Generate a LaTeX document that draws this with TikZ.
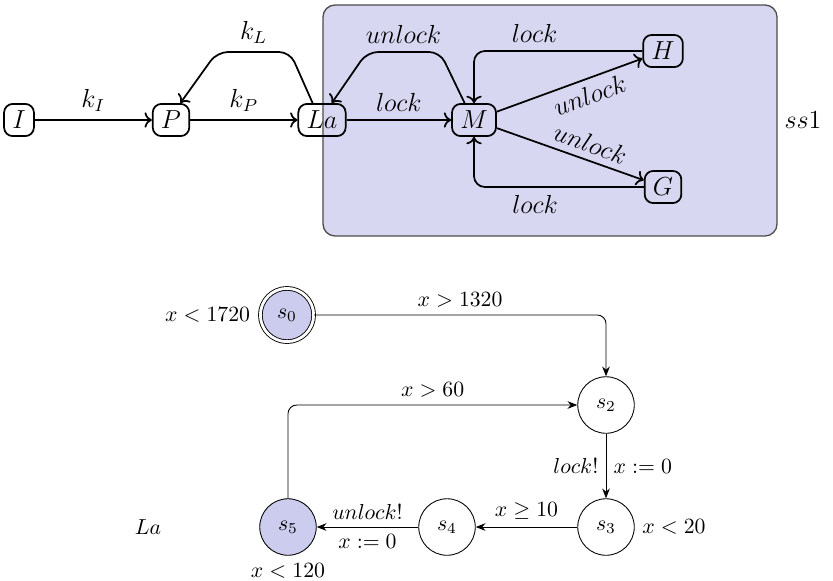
\documentclass[tikz,border=0pt]{standalone}
\usetikzlibrary{arrows.meta}
\definecolor{boxfill}{RGB}{215,215,241}
\definecolor{statefill}{RGB}{204,204,238}
\begin{document}
\begin{tikzpicture}[x=0.46pt,y=-0.46pt,
  tfont/.style={font=\fontsize{11.5}{13}\selectfont},
  tnode/.style={draw, thick, rounded corners=4pt, inner xsep=3.8pt, inner ysep=2pt, minimum height=14.8pt},
  tedge/.style={thick, ->, rounded corners=5pt},
  state/.style={circle, draw, thin, minimum size=26pt, inner sep=0pt},
  bedge/.style={thin, -{Stealth[length=4.5pt,width=3.5pt]}, rounded corners=4pt}]
\useasboundingbox (0,0) rectangle (833,580);
\draw[fill=boxfill, draw=black!70, line width=0.6pt, rounded corners=5.5pt] (323,5) rectangle (777,236);
% top diagram
\begin{scope}[every node/.append style={tfont}]
\node[tnode] (I) at (19,120) {$I$};
\node[tnode] (P) at (171,120) {$P$};
\node[tnode] (La) at (322,120) {$La$};
\node[tnode] (M) at (474,120) {$M$};
\node[tnode] (H) at (663,51) {$H$};
\node[tnode] (G) at (663,187) {$G$};
\node (ss) at (803,120) {$ss1$};
\draw[tedge] (I) -- node[above] {$k_I$} (P);
\draw[tedge] (P) -- node[above] {$k_P$} (La);
\draw[tedge] (La.119) -- (290,52) -- node[above] {$k_L$} (217,52) -- (P.61);
\draw[tedge] (La) -- node[above] {$lock$} (M);
\draw[tedge] (M.119) -- (440,52) -- node[above] {$unlock$} (367,52) -- (La.60);
\draw[tedge] (H) -| node[pos=0.32, above] {$lock$} (M);
\draw[tedge] (M) -- node[pos=0.6, below, sloped, inner sep=3pt] {$unlock$} (H);
\draw[tedge] (M) -- node[pos=0.6, above, sloped, inner sep=3pt] {$unlock$} (G);
\draw[tedge] (G) -| node[pos=0.32, below] {$lock$} (M);
\end{scope}
% bottom diagram
\node[state, fill=statefill, double, double distance=1.3pt, minimum size=24.5pt, label={[label distance=1pt]left:{$x<1720$}}] (s0) at (287,315) {$s_0$};
\node[state] (s2) at (606,405) {$s_2$};
\node[state, label={right:{$x<20$}}] (s3) at (606,527) {$s_3$};
\node[state] (s4) at (447,527) {$s_4$};
\node[state, fill=statefill, label={below:{$x<120$}}] (s5) at (288,527) {$s_5$};
\node (lab) at (148,527) {$La$};
\draw[bedge] (s0) -| node[pos=0.25, above] {$x>1320$} (s2);
\draw[bedge] (s5) |- node[pos=0.75, above] {$x>60$} (s2);
\draw[bedge] (s2) -- node[left] {$lock!$} node[right] {$x:=0$} (s3);
\draw[bedge] (s3) -- node[above] {$x\geq 10$} (s4);
\draw[bedge] (s4) -- node[above] {$unlock!$} node[below] {$x:=0$} (s5);
\end{tikzpicture}
\end{document}
